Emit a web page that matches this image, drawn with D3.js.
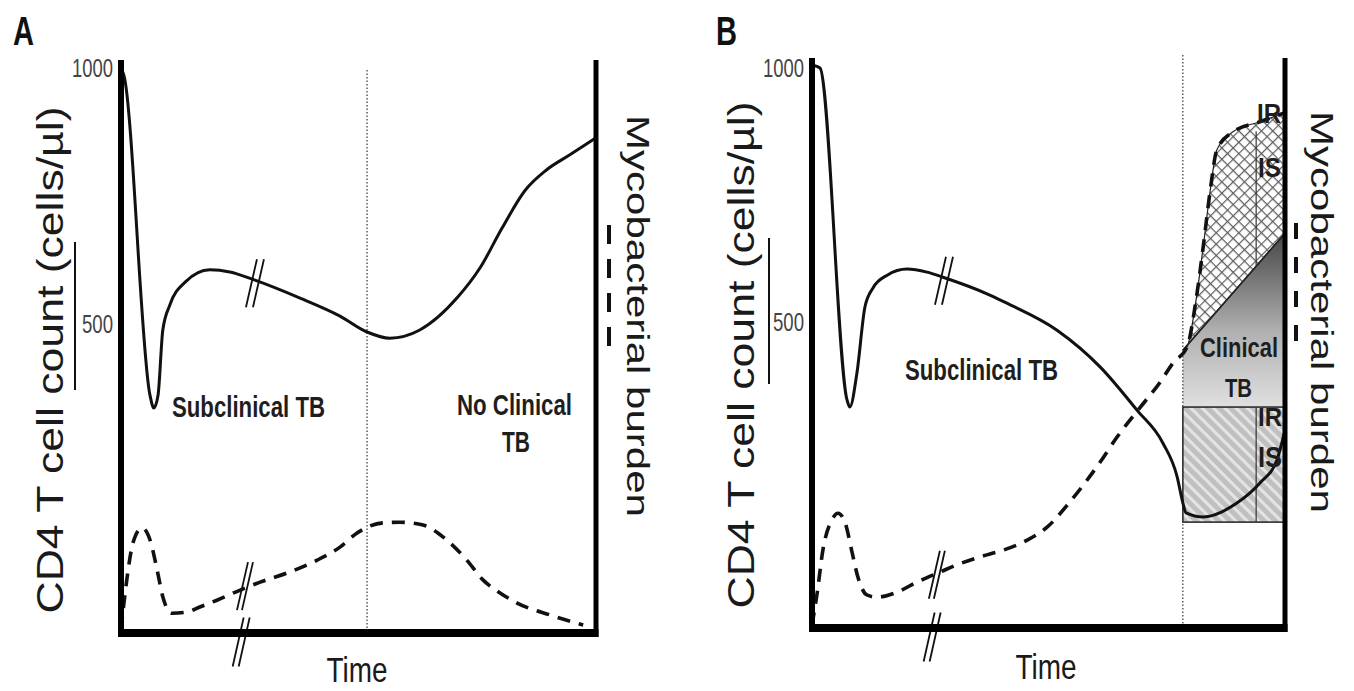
<!DOCTYPE html>
<html><head><meta charset="utf-8">
<script src="https://cdn.jsdelivr.net/npm/d3@7/dist/d3.min.js"></script>
<style>html,body{margin:0;padding:0;background:#fff;} svg{display:block;}</style>
</head><body>
<svg id="chart" width="1354" height="691"></svg>
<script>
// ---------------- data ----------------
const timeDomain = [0, 100];
const cd4Domain = [-100, 1000];
const burdenDomain = [0, 100];
const cd4TickValues = [500, 1000];
const cd4TickLabels = ["500", "1000"];

// Panel A: CD4 count (solid) and mycobacterial burden (dashed) over schematic time
const cd4A = [[0,1000],[0.6,986],[6.1,363],[6.9,338],[7.8,363],[8.8,490],[10.3,539],[13.5,583],[18.7,607],[22.9,603],[28.2,587],[37.7,552],[46.1,517],[51.8,486],[56.6,474],[62.9,490],[70.9,554],[75.6,611],[80.2,688],[85.1,762],[89.5,801],[94.5,831],[100,864]];
const burdenA = [[0,0.5],[1.3,9.9],[2.5,15.9],[4.4,18.6],[6.1,16.5],[7.6,11.2],[8.8,6.4],[10.7,3.5],[13.9,3.7],[16.6,4.6],[20.2,5.8],[25.1,7.6],[29.3,9.0],[34.9,10.6],[41.3,12.9],[46.1,15.2],[49.7,17.7],[55.2,19.5],[58.7,19.6],[63.6,19.1],[67.8,17.0],[72.8,12.9],[76.2,9.4],[79.8,7.1],[83.4,5.3],[90.3,3.2],[97.3,1.4]];
const splitTimeA = 51.8;
const breaksA = {cd4: [28.2, 581], burden: [26.1, 8.3], axis: 25.3};

// Panel B
const cd4B = [[0.4,1005],[1.7,1000],[7.4,348],[8.0,334],[9.5,401],[11.2,531],[12.9,568],[15.9,593],[20.1,605],[24.3,599],[27.7,589],[37.6,554],[41.2,538],[51.8,485],[60.9,413],[68.7,328],[74.2,263],[77.2,197],[78.4,146],[79.1,126],[82.7,118],[89.9,146],[94.7,185],[98.3,230],[100,289]];
const burdenB = [[0,0.5],[1.1,6.3],[2.3,13.9],[4.2,19.3],[5.5,20.5],[7.0,18.8],[8.5,13.4],[9.7,9.1],[11.6,5.9],[13.7,5.5],[18.0,6.4],[22.2,8.2],[27.1,10.0],[30.7,11.3],[35.5,12.7],[40.4,13.9],[45.5,15.7],[49.7,18.0],[54.5,22.5],[60.9,29.6],[64.5,34.1],[69.3,39.3],[73.6,43.9],[76.3,47.3],[79.3,50.2],[81.2,58.6],[82.7,68.0],[84.2,78.2],[85.6,85.4],[89.0,88.6],[94.7,90.4],[100,92.0]];
const splitTimeB = 78.4;          // onset of clinical TB
const irIsSplitB = 93.9;          // IR / IS divider
const cd4BandB = [108, 334];      // CD4 band in clinical TB
const thresholdB = [[78.4,49.6],[100,70.5]]; // burden threshold line
const breaksB = {cd4: [27.9, 582], burden: [26.4, 9.5], axis: 25.4};

// ---------------- drawing ----------------
const svg = d3.select("#chart");
const defs = svg.append("defs");
const FONT = "'Liberation Sans', Arial, Helvetica, sans-serif";

// patterns / gradient
const cross = defs.append("pattern").attr("id","cross").attr("patternUnits","userSpaceOnUse")
  .attr("width",8).attr("height",8).attr("patternTransform","rotate(45)");
cross.append("rect").attr("width",8).attr("height",8).attr("fill","#fff");
cross.append("path").attr("d","M0,0L0,8M0,0L8,0").attr("stroke","#5e5e5e").attr("stroke-width",2.4);

const stripe = defs.append("pattern").attr("id","stripe").attr("patternUnits","userSpaceOnUse")
  .attr("width",8).attr("height",8).attr("patternTransform","rotate(-45)");
stripe.append("rect").attr("width",8).attr("height",8).attr("fill","#c0c0c0");
stripe.append("rect").attr("width",3).attr("height",8).attr("fill","#e4e4e4");

const grad = defs.append("linearGradient").attr("id","grad").attr("gradientUnits","userSpaceOnUse")
  .attr("x1",0).attr("y1",235).attr("x2",0).attr("y2",410);
grad.append("stop").attr("offset","0").attr("stop-color","#474747");
grad.append("stop").attr("offset","0.55").attr("stop-color","#b0b0b0");
grad.append("stop").attr("offset","1").attr("stop-color","#e2e2e2");

function text(g, s, x, y, o) {
  const t = g.append("text").attr("x", 0).attr("y", 0).text(s)
    .attr("font-family", FONT).attr("font-size", o.size)
    .attr("font-weight", o.bold ? "bold" : "normal")
    .attr("fill", o.fill || "#111")
    .attr("text-anchor", o.anchor || "start")
    .attr("transform", `translate(${x},${y})` + (o.rot ? ` rotate(${o.rot})` : ""));
  if (o.len) t.attr("textLength", o.len).attr("lengthAdjust", "spacingAndGlyphs");
  return t;
}

function slashes(g, cx, cy, h, dx, gap) {
  [0, 1].forEach(k => {
    const off = k * gap - gap / 2;
    g.append("line")
      .attr("x1", cx - dx / 2 + off).attr("y1", cy + h / 2)
      .attr("x2", cx + dx / 2 + off).attr("y2", cy - h / 2)
      .attr("stroke", "#111").attr("stroke-width", 1.8);
  });
}

function panel(cfg) {
  const g = svg.append("g");
  const x = d3.scaleLinear().domain(timeDomain).range(cfg.xr);
  const y = d3.scaleLinear().domain(cd4Domain).range(cfg.yr);
  const yb = d3.scaleLinear().domain(burdenDomain).range(cfg.yr);
  const lineC = d3.line().x(d => x(d[0])).y(d => y(d[1])).curve(d3.curveMonotoneX);
  const lineB = d3.line().x(d => x(d[0])).y(d => yb(d[1])).curve(d3.curveMonotoneX);

  if (cfg.clinical) {
    const t0 = thresholdB[0], t1 = thresholdB[1];
    // gradient region between band top and threshold line
    g.append("path").attr("d",
      `M${x(t0[0])},${yb(t0[1])}L${x(t1[0])},${yb(t1[1])}L${x(t1[0])},${y(cd4BandB[1])}L${x(t0[0])},${y(cd4BandB[1])}Z`)
      .attr("fill", "url(#grad)");
    // crosshatched region between threshold and burden curve
    const top = [t0].concat(burdenB.filter(d => d[0] > t0[0]));
    const topPath = lineB(top);
    g.append("path").attr("d", topPath + `L${x(t1[0])},${yb(t1[1])}L${x(t0[0])},${yb(t0[1])}Z`)
      .attr("fill", "url(#cross)").attr("stroke", "#222").attr("stroke-width", 1.2);
    // threshold line
    g.append("line").attr("x1", x(t0[0])).attr("y1", yb(t0[1])).attr("x2", x(t1[0])).attr("y2", yb(t1[1]))
      .attr("stroke", "#222").attr("stroke-width", 1.6);
    // IR/IS divider in crosshatch
    const interp = d3.scaleLinear().domain([t0[0], t1[0]]).range([t0[1], t1[1]]);
    const topAt = d3.scaleLinear().domain(top.map(d => d[0])).range(top.map(d => d[1]));
    g.append("line").attr("x1", x(irIsSplitB)).attr("x2", x(irIsSplitB))
      .attr("y1", yb(topAt(irIsSplitB)) + 8).attr("y2", yb(interp(irIsSplitB)))
      .attr("stroke", "#333").attr("stroke-width", 1.2);
    // hatched CD4 band
    g.append("rect").attr("x", x(splitTimeB)).attr("y", y(cd4BandB[1]))
      .attr("width", x(100) - x(splitTimeB)).attr("height", y(cd4BandB[0]) - y(cd4BandB[1]))
      .attr("fill", "url(#stripe)").attr("stroke", "#222").attr("stroke-width", 1.5);
    g.append("line").attr("x1", x(irIsSplitB)).attr("x2", x(irIsSplitB))
      .attr("y1", y(cd4BandB[1])).attr("y2", y(cd4BandB[0]))
      .attr("stroke", "#333").attr("stroke-width", 1.2);
  }

  // dotted split line
  g.append("line").attr("x1", x(cfg.split)).attr("x2", x(cfg.split))
    .attr("y1", cfg.dotTop).attr("y2", cfg.yr[0] - 3)
    .attr("stroke", "#444").attr("stroke-width", 1.3).attr("stroke-dasharray", "1.5,2");

  // curves
  g.append("path").attr("d", lineC(cfg.cd4)).attr("fill", "none").attr("stroke", "#111").attr("stroke-width", 3);
  g.append("path").attr("d", lineB(cfg.burden)).attr("fill", "none").attr("stroke", "#111")
    .attr("stroke-width", 3.6).attr("stroke-dasharray", "13,9");

  // break marks
  slashes(g, x(cfg.breaks.cd4[0]), y(cfg.breaks.cd4[1]), 48, 11, 7);
  slashes(g, x(cfg.breaks.burden[0]), yb(cfg.breaks.burden[1]), 48, 11, 5);
  slashes(g, x(cfg.breaks.axis), cfg.yr[0] + 9, 49, 11, 6);

  // frame
  g.append("line").attr("x1", cfg.xr[0]).attr("x2", cfg.xr[0]).attr("y1", cfg.frameTop).attr("y2", cfg.yr[0] + 4)
    .attr("stroke", "#000").attr("stroke-width", 6);
  g.append("line").attr("x1", cfg.xr[1]).attr("x2", cfg.xr[1]).attr("y1", cfg.frameTop).attr("y2", cfg.yr[0] + 4)
    .attr("stroke", "#000").attr("stroke-width", 5);
  g.append("line").attr("x1", cfg.xr[0] - 3).attr("x2", cfg.xr[1] + 2.5).attr("y1", cfg.yr[0]).attr("y2", cfg.yr[0])
    .attr("stroke", "#000").attr("stroke-width", 8);

  // left axis tick labels via d3 axis
  const ax = g.append("g").attr("transform", `translate(${cfg.xr[0]},0)`)
    .call(d3.axisLeft(y).tickValues(cd4TickValues).tickSize(0).tickPadding(8)
      .tickFormat((d, i) => cd4TickLabels[i]));
  ax.select(".domain").remove();
  ax.selectAll("text").attr("font-family", FONT).attr("font-size", 25).attr("fill", "#444")
    .attr("textLength", d => d === 1000 ? 41 : 31).attr("lengthAdjust", "spacingAndGlyphs");

  // right-side dashed legend mark
  g.append("line").attr("x1", cfg.legX).attr("x2", cfg.legX).attr("y1", cfg.legY[0]).attr("y2", cfg.legY[1])
    .attr("stroke", "#111").attr("stroke-width", 4).attr("stroke-dasharray", cfg.legDash);

  // stray vertical line next to y label
  g.append("line").attr("x1", cfg.stray[0]).attr("x2", cfg.stray[0]).attr("y1", cfg.stray[1]).attr("y2", cfg.stray[2])
    .attr("stroke", "#111").attr("stroke-width", 2);

  // texts
  text(g, cfg.letter, cfg.letterPos[0], cfg.letterPos[1], {size: 40, bold: true, len: 21});
  text(g, "CD4 T cell count (cells/µl)", cfg.yLab[0], cfg.yLab[1], {size: 36, rot: -90, anchor: "middle", len: 507, fill: "#1a1a1a"});
  text(g, "Mycobacterial burden", cfg.rLab[0], cfg.rLab[1], {size: 31, rot: 90, anchor: "middle", len: 402, fill: "#1a1a1a"});
  text(g, "Time", cfg.timeLab[0], cfg.timeLab[1], {size: 35, anchor: "middle", len: 61, fill: "#1a1a1a"});
  cfg.labels.forEach(l => text(g, l.s, l.x, l.y, {size: l.size, bold: true, len: l.len, fill: "#1e1e1e"}));
}

panel({
  letter: "A", letterPos: [13, 45],
  xr: [121, 596], yr: [633, 68], frameTop: 60, dotTop: 70,
  cd4: cd4A, burden: burdenA, split: splitTimeA, breaks: breaksA,
  legX: 609, legY: [225, 347], legDash: "19,15",
  stray: [75, 242, 390],
  yLab: [63, 360], rLab: [627, 316], timeLab: [357, 682],
  labels: [
    {s: "Subclinical TB", x: 172, y: 417, size: 30, len: 153},
    {s: "No Clinical", x: 457, y: 415, size: 30, len: 115},
    {s: "TB", x: 502, y: 452, size: 30, len: 28}
  ]
});

panel({
  letter: "B", letterPos: [716, 45],
  xr: [812, 1285], yr: [628, 68], frameTop: 58, dotTop: 55,
  cd4: cd4B, burden: burdenB, split: splitTimeB, breaks: breaksB, clinical: true,
  legX: 1296, legY: [223, 343], legDash: "16,18",
  stray: [769, 238, 384],
  yLab: [754, 355], rLab: [1311, 312], timeLab: [1046, 679],
  labels: [
    {s: "Subclinical TB", x: 905, y: 380, size: 30, len: 153},
    {s: "Clinical", x: 1200, y: 357, size: 27, len: 78},
    {s: "TB", x: 1225, y: 397, size: 25, len: 27},
    {s: "IR", x: 1257, y: 123, size: 27, len: 24},
    {s: "IS", x: 1258, y: 177, size: 27, len: 23},
    {s: "IR", x: 1258, y: 426, size: 26, len: 24},
    {s: "IS", x: 1258, y: 467, size: 30, len: 24}
  ]
});
</script>
</body></html>
